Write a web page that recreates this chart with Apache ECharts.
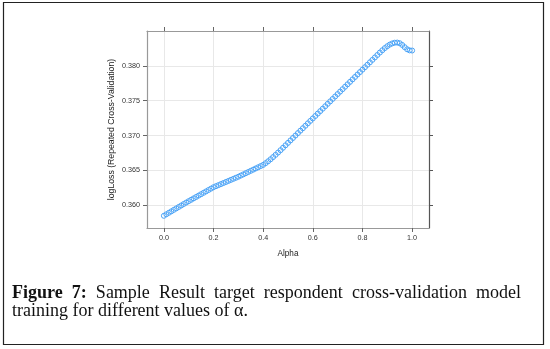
<!DOCTYPE html>
<html>
<head>
<meta charset="utf-8">
<script src="https://cdn.jsdelivr.net/npm/echarts@6/dist/echarts.min.js"></script>
<style>
  html, body { margin: 0; padding: 0; background: #fff; }
  #box { width: 550px; height: 349px; }
</style>
</head>
<body>
<div id="box"></div>
<script>
// alpha values (x) and the resampled logLoss (y)
var alphaValues = [
  0.00, 0.01, 0.02, 0.03, 0.04, 0.05, 0.06, 0.07, 0.08, 0.09,
  0.10, 0.11, 0.12, 0.13, 0.14, 0.15, 0.16, 0.17, 0.18, 0.19,
  0.20, 0.21, 0.22, 0.23, 0.24, 0.25, 0.26, 0.27, 0.28, 0.29,
  0.30, 0.31, 0.32, 0.33, 0.34, 0.35, 0.36, 0.37, 0.38, 0.39,
  0.40, 0.41, 0.42, 0.43, 0.44, 0.45, 0.46, 0.47, 0.48, 0.49,
  0.50, 0.51, 0.52, 0.53, 0.54, 0.55, 0.56, 0.57, 0.58, 0.59,
  0.60, 0.61, 0.62, 0.63, 0.64, 0.65, 0.66, 0.67, 0.68, 0.69,
  0.70, 0.71, 0.72, 0.73, 0.74, 0.75, 0.76, 0.77, 0.78, 0.79,
  0.80, 0.81, 0.82, 0.83, 0.84, 0.85, 0.86, 0.87, 0.88, 0.89,
  0.90, 0.91, 0.92, 0.93, 0.94, 0.95, 0.96, 0.97, 0.98, 0.99,
  1.00
];
var logLossValues = [
  0.35850, 0.35872, 0.35893, 0.35914, 0.35935, 0.35956, 0.35977, 0.35998, 0.36019, 0.36040,
  0.36060, 0.36080, 0.36100, 0.36120, 0.36140, 0.36160, 0.36180, 0.36200, 0.36220, 0.36240,
  0.36260, 0.36275, 0.36290, 0.36305, 0.36320, 0.36335, 0.36350, 0.36365, 0.36380, 0.36395,
  0.36410, 0.36427, 0.36444, 0.36461, 0.36478, 0.36495, 0.36512, 0.36529, 0.36546, 0.36563,
  0.36580, 0.36605, 0.36632, 0.36661, 0.36692, 0.36724, 0.36757, 0.36791, 0.36826, 0.36861,
  0.36896, 0.36931, 0.36966, 0.37001, 0.37036, 0.37071, 0.37106, 0.37141, 0.37176, 0.37211,
  0.37246, 0.37281, 0.37316, 0.37351, 0.37386, 0.37421, 0.37456, 0.37491, 0.37526, 0.37561,
  0.37596, 0.37631, 0.37666, 0.37701, 0.37736, 0.37771, 0.37806, 0.37841, 0.37876, 0.37911,
  0.37946, 0.37981, 0.38016, 0.38051, 0.38086, 0.38121, 0.38156, 0.38191, 0.38224, 0.38255,
  0.38282, 0.38305, 0.38322, 0.38332, 0.38334, 0.38325, 0.38300, 0.38268, 0.38238, 0.38222,
  0.38220
];

// tick positions
var xTicks = [0.0, 0.2, 0.4, 0.6, 0.8, 1.0];
var yTicks = [0.360, 0.365, 0.370, 0.375, 0.380];

// caption, first line justified between the margins
var captionWords = ['Figure', '7:', 'Sample', 'Result', 'target', 'respondent', 'cross-validation', 'model'];
var captionLine2 = 'training for different values of \u03b1.';

var box = document.getElementById('box');
var myChart = echarts.init(box, null, { renderer: 'canvas' });

var tickFont = { fontFamily: 'Liberation Sans', fontSize: 7.2, color: '#333' };
var gridColor = '#e8e8e8';

var pts = [];
for (var i = 0; i < alphaValues.length; i++) {
  pts.push([alphaValues[i], logLossValues[i]]);
}

// measure the words so the gaps can be spread evenly
var capLeft = 12, capRight = 521;
var ctx = document.createElement('canvas').getContext('2d');
var fonts = captionWords.map(function (w, k) {
  return (k < 2 ? 'bold ' : '') + '18px "Liberation Serif"';
});
var widths = captionWords.map(function (w, k) {
  ctx.font = fonts[k];
  return ctx.measureText(w).width;
});
var totalW = widths.reduce(function (a, b) { return a + b; }, 0);
var gap = (capRight - capLeft - totalW) / (captionWords.length - 1);

var graphics = [{
  type: 'rect',
  shape: { x: 3.5, y: 2.5, width: 540, height: 342 },
  style: { fill: 'none', stroke: '#222', lineWidth: 1.2 },
  silent: true
}];
var cx = capLeft;
captionWords.forEach(function (w, k) {
  graphics.push({
    type: 'text',
    x: cx,
    y: 293,
    style: {
      text: w,
      font: fonts[k],
      fill: '#111',
      textAlign: 'left',
      textVerticalAlign: 'middle'
    }
  });
  cx += widths[k] + gap;
});
graphics.push({
  type: 'text',
  x: capLeft,
  y: 311,
  style: {
    text: captionLine2,
    font: '18px "Liberation Serif"',
    fill: '#111',
    textAlign: 'left',
    textVerticalAlign: 'middle'
  }
});

var option = {
  animation: false,
  backgroundColor: '#fff',
  grid: { left: 147, top: 31, right: 121, bottom: 121, containLabel: false },
  xAxis: [{
    type: 'value',
    min: -0.068,
    max: 1.068,
    name: 'Alpha',
    nameLocation: 'middle',
    nameGap: 22,
    nameMoveOverlap: false,
    nameTextStyle: { fontFamily: 'Liberation Sans', fontSize: 8.2, color: '#222' },
    axisLine: { show: true, onZero: false, lineStyle: { color: '#999', width: 1.2 } },
    axisTick: { show: true, length: 4, customValues: xTicks, lineStyle: { color: '#666' } },
    axisLabel: {
      customValues: xTicks, margin: 7,
      formatter: function (v) { return v.toFixed(1); },
      fontFamily: tickFont.fontFamily, fontSize: tickFont.fontSize, color: tickFont.color
    },
    splitLine: { show: true, lineStyle: { color: gridColor, width: 1 } }
  }, {
    type: 'value',
    position: 'top',
    min: -0.068,
    max: 1.068,
    axisLine: { show: true, onZero: false, lineStyle: { color: '#999', width: 1.2 } },
    axisTick: { show: true, length: 4, customValues: xTicks, lineStyle: { color: '#666' } },
    axisLabel: { show: false },
    splitLine: { show: false }
  }],
  yAxis: [{
    type: 'value',
    min: 0.35675,
    max: 0.385,
    name: 'logLoss (Repeated Cross-Validation)',
    nameLocation: 'middle',
    nameGap: 31,
    nameMoveOverlap: false,
    nameRotate: 90,
    nameTextStyle: { fontFamily: 'Liberation Sans', fontSize: 8.7, color: '#222' },
    axisLine: { show: true, onZero: false, lineStyle: { color: '#999', width: 1.2 } },
    axisTick: { show: true, length: 4, customValues: yTicks, lineStyle: { color: '#666' } },
    axisLabel: {
      customValues: yTicks, margin: 7,
      formatter: function (v) { return v.toFixed(3); },
      fontFamily: tickFont.fontFamily, fontSize: tickFont.fontSize, color: tickFont.color
    },
    splitLine: { show: true, lineStyle: { color: gridColor, width: 1 } }
  }, {
    type: 'value',
    position: 'right',
    min: 0.35675,
    max: 0.385,
    axisLine: { show: true, onZero: false, lineStyle: { color: '#555', width: 1.2 } },
    axisTick: { show: true, length: 4, customValues: yTicks, lineStyle: { color: '#555' } },
    axisLabel: { show: false },
    splitLine: { show: false }
  }],
  graphic: graphics,
  series: [{
    type: 'scatter',
    xAxisIndex: 0,
    yAxisIndex: 0,
    data: pts,
    symbol: 'circle',
    symbolSize: 5,
    itemStyle: { color: 'rgba(255,255,255,0)', borderColor: '#4aa3f7', borderWidth: 1, opacity: 1 }
  }]
};

myChart.setOption(option);
</script>
</body>
</html>
